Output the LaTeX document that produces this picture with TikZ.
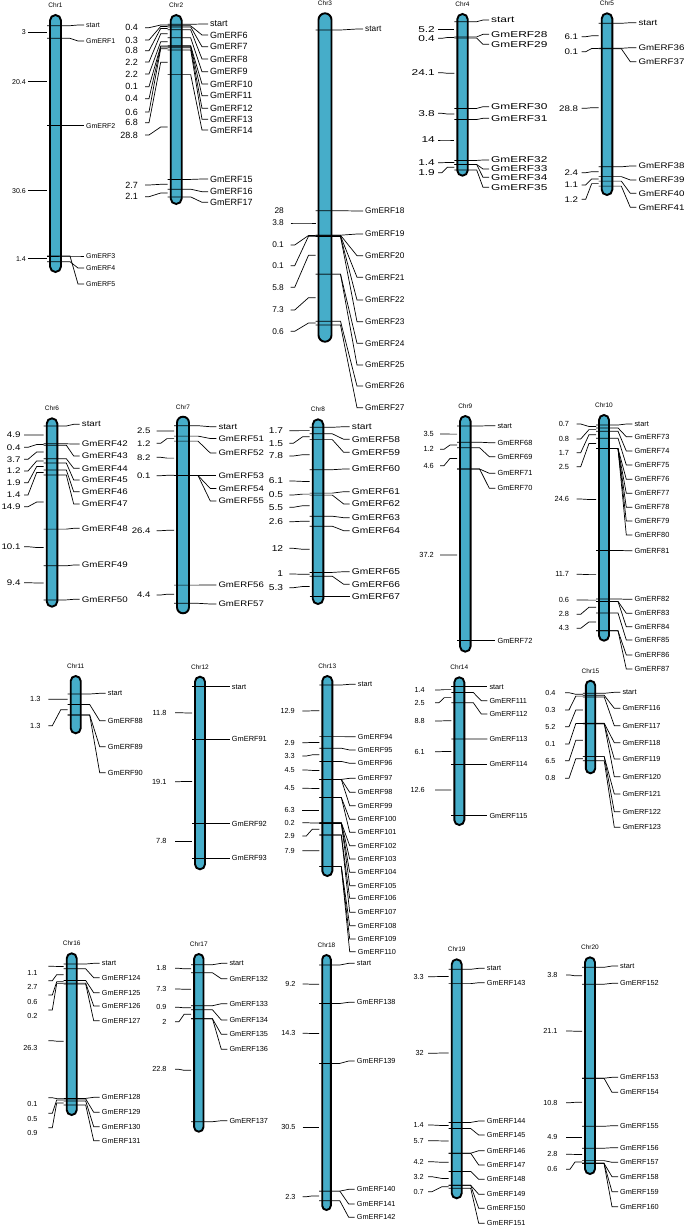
\documentclass[tikz,border=0pt]{standalone}
\usepackage{fontspec}
\setmainfont{Liberation Sans}
\newfontfamily\fontB[FakeStretch=1.2]{Liberation Sans}
\newfontfamily\fontC[FakeStretch=1.4]{Liberation Sans}
\newcommand\fA[1]{\normalfont\fontsize{#1}{#1}\selectfont}
\newcommand\fB[1]{\fontB\fontsize{#1}{#1}\selectfont}
\newcommand\fC[1]{\fontC\fontsize{#1}{#1}\selectfont}
\definecolor{barc}{RGB}{70,173,201}
\newcounter{dn}
\tikzset{
 bar/.style={draw=black, line width=1.9pt, fill=barc},
 ln/.style={draw=black, line width=0.7pt},
 lab/.style={font=\Kfn, inner sep=0pt},
 ttl/.style={font=\fA{6.5}, inner sep=0pt},
}
% #1 num, #2 cx, #3 top, #4 bottom, #5 label x, #6 dist text right, #7 font, #8 half width, #9 gap
\newcommand\chr[9]{%
 \def\Kcn{#1}\def\Kcx{#2}\def\Klx{#5}\def\Ktx{#6}\def\Kfn{#7}\def\Khw{#8}\def\Ktg{#9}%
 \node[ttl] (c#1) at ({#2},{#3-10}) {Chr#1};
 \draw[bar, rounded corners=#8pt] ({#2-#8},{#3}) rectangle ({#2+#8},{#4});
}
\newcommand\st[2]{%
 \node[lab,anchor=west] (s\Kcn) at (\Klx,#2) {start};
 \draw[ln] ({\Kcx-\Khw-3},#1) -- ({\Kcx+\Khw+9},#1) -- ({\Klx-8},#2) -- ([xshift=-2pt]s\Kcn.west);
}
\newcommand\gn[3]{%
 \node[lab,anchor=west] (g#3) at (\Klx,#2) {GmERF#3};
 \draw[ln] ({\Kcx-\Khw-3},#1) -- ({\Kcx+\Khw+9},#1) -- ({\Klx-8},#2) -- ([xshift=-2pt]g#3.west);
}
% yd, y0 (line start), yt (text), text
\newcommand\ds[4]{%
 \stepcounter{dn}%
 \node[lab,anchor=east] (d\thedn) at (\Ktx,#3) {#4};
 \draw[ln] ([xshift=\Ktg pt,yshift={(#3-(#2))*1pt}]d\thedn.east) -- ++(4,0) -- ({\Kcx-\Khw-10},#1) -- ({\Kcx-\Khw-3},#1);
}
\newcommand\da[3]{\ds{#1}{#2}{#2}{#3}}
\newcommand\dt[2]{\stepcounter{dn}\node[lab,anchor=east] (d\thedn) at (\Ktx,#1) {#2};}
\begin{document}
\begin{tikzpicture}[x=1pt,y=-1pt]
\fill[white] (0,0) rectangle (685,1227);
\useasboundingbox (0,0) rectangle (685,1227);

% ---------- Chr1
\chr{1}{55.5}{15}{272}{86}{26}{\fA{7}}{5.5}{2.3}
\st{25.7}{25}
\gn{38.3}{41}{1}
\gn{125.7}{125.7}{2}
\gn{256}{256}{3}
\gn{261.7}{268}{4}
\gn{256}{284}{5}
\da{32.2}{32.2}{3}
\da{81.7}{81.7}{20.4}
\da{190.7}{190.7}{30.6}
\da{258.7}{258.7}{1.4}

% ---------- Chr2
\chr{2}{176.2}{15}{204}{210}{138}{\fA{9}}{5.5}{7}
\st{24.3}{24}
\gn{25.8}{35}{6}
\gn{26.9}{46.7}{7}
\gn{29.8}{59}{8}
\gn{37.8}{71.7}{9}
\gn{45.8}{84}{10}
\gn{46.2}{95.7}{11}
\gn{47.7}{108.3}{12}
\gn{49.9}{119.3}{13}
\gn{74.6}{130}{14}
\gn{179.4}{179}{15}
\gn{189.2}{191.7}{16}
\gn{196.9}{202.3}{17}
\da{25}{27.7}{0.4}
\da{26.4}{40}{0.3}
\da{28.4}{50.7}{0.8}
\da{33.8}{62}{2.2}
\da{41.8}{74}{2.2}
\da{46}{86.7}{0.1}
\da{47}{98.7}{0.4}
\da{48.8}{112}{0.6}
\da{62.3}{122.7}{6.8}
\da{127}{135}{28.8}
\da{184.3}{185}{2.7}
\da{193}{196.7}{2.1}

% ---------- Chr3
\chr{3}{325}{13.3}{341.7}{365}{284}{\fA{8.3}}{6.5}{6.7}
\st{30}{29}
\gn{210.7}{211}{18}
\gn{235.2}{234}{19}
\gn{235.2}{255.7}{20}
\gn{235.9}{277.3}{21}
\gn{236.5}{300}{22}
\gn{236.5}{321.7}{23}
\gn{274.1}{343.3}{24}
\gn{274.1}{365}{25}
\gn{321.2}{386}{26}
\gn{325}{407.7}{27}
\dt{211}{28}
\da{223}{223}{3.8}
\da{235.5}{245}{0.1}
\da{236.2}{265.7}{0.1}
\da{255.3}{287.3}{5.8}
\da{297.7}{310}{7.3}
\da{323}{331.3}{0.6}

% ---------- Chr4
\chr{4}{462.5}{14}{175.7}{491}{435}{\fC{8.5}}{5.2}{3}
\st{21.7}{20}
\gn{36.9}{34.3}{28}
\gn{38.1}{44.3}{29}
\gn{108.4}{106.7}{30}
\gn{119.5}{118.3}{31}
\gn{160.4}{160}{32}
\gn{164.5}{169}{33}
\gn{164.5}{177.3}{34}
\gn{170}{187.3}{35}
\da{29.3}{29.3}{5.2}
\da{37.5}{38.3}{0.4}
\da{73.3}{72.7}{24.1}
\da{114}{113.3}{3.8}
\da{140}{140}{14}
\da{162.5}{162.7}{1.4}
\da{167.3}{172.7}{1.9}

% ---------- Chr5
\chr{5}{607}{13.3}{195}{638.3}{578.3}{\fB{8.1}}{5.3}{3.4}
\st{23.3}{22.7}
\gn{48.3}{47.7}{36}
\gn{48.7}{61.7}{37}
\gn{166.8}{166}{38}
\gn{176.6}{180}{39}
\gn{181.1}{193.3}{40}
\gn{186.1}{207.3}{41}
\da{35.8}{36.7}{6.1}
\da{48.5}{51.7}{0.1}
\da{107.7}{108.3}{28.8}
\da{171.7}{172.7}{2.4}
\da{178.9}{185}{1.1}
\da{183.6}{199.3}{1.2}

% ---------- Chr6
\chr{6}{52}{418.3}{606.7}{81.7}{20.7}{\fB{8.1}}{5.3}{3.3}
\st{426}{424.3}
\gn{443.8}{444}{42}
\gn{445.2}{456}{43}
\gn{458.7}{468.3}{44}
\gn{463}{480}{45}
\gn{469.9}{491.7}{46}
\gn{475}{504}{47}
\gn{529.1}{528.3}{48}
\gn{565.8}{565}{49}
\gn{599.9}{599.3}{50}
\da{434.9}{435}{4.9}
\da{444.5}{447.3}{0.4}
\da{452}{459.3}{3.7}
\da{460.9}{471}{1.2}
\da{466.5}{482.7}{1.9}
\da{472.5}{495}{1.4}
\da{502}{506.7}{14.9}
\da{547.5}{546.7}{10.1}
\da{583}{582.7}{9.4}

% ---------- Chr7
\chr{7}{183}{416.7}{613.3}{218.3}{150.7}{\fB{8}}{6}{6}
\st{425.7}{426.7}
\gn{436.1}{438.5}{51}
\gn{441.1}{453}{52}
\gn{475.5}{475.5}{53}
\gn{475.5}{488.5}{54}
\gn{475.5}{501}{55}
\gn{585.1}{585}{56}
\gn{603.3}{604}{57}
\da{430.9}{431}{2.5}
\da{438.6}{443.3}{1.2}
\da{458.1}{457.3}{8.2}
\da{475.3}{475.7}{0.1}
\da{530.3}{530.7}{26.4}
\da{594.2}{595}{4.4}

% ---------- Chr8
\chr{8}{318}{419.3}{604}{351.7}{283.3}{\fB{8.5}}{5.3}{6}
\st{427.3}{426.7}
\gn{433.8}{439.3}{58}
\gn{439.6}{452.3}{59}
\gn{469.7}{469}{60}
\gn{493.1}{491.7}{61}
\gn{495.1}{504}{62}
\gn{516.2}{517.7}{63}
\gn{526.2}{530.7}{64}
\gn{572.4}{571.7}{65}
\gn{576.2}{584.3}{66}
\gn{596.7}{596.7}{67}
\da{430.6}{430.7}{1.7}
\da{436.7}{443.3}{1.5}
\da{454.7}{456}{7.8}
\da{481.4}{481}{6.1}
\da{494.1}{495}{0.5}
\da{505.7}{507.3}{5.5}
\da{521.2}{521.7}{2.6}
\da{549.3}{548.3}{12}
\da{574.3}{574}{1}
\da{586.5}{587.7}{5.3}

% ---------- Chr9
\chr{9}{465.3}{416}{651.7}{497.3}{434}{\fA{7.4}}{5.3}{6}
\st{426}{425.7}
\gn{442.2}{442.7}{68}
\gn{447.7}{456.7}{69}
\gn{469}{473.3}{71}
\gn{469}{488.3}{70}
\gn{640.7}{640.7}{72}
\da{434.1}{434}{3.5}
\da{445}{449.3}{1.2}
\da{458.4}{465.7}{4.6}
\da{554.9}{555}{37.2}

% ---------- Chr10
\chr{10}{604}{415}{640.7}{634.3}{569.3}{\fA{7.4}}{5}{7.4}
\st{425}{424}
\gn{427.9}{436.7}{73}
\gn{431.2}{451}{74}
\gn{438.2}{465}{75}
\gn{448.6}{479.3}{76}
\gn{448.6}{493.3}{77}
\gn{448.6}{507.3}{78}
\gn{448.6}{521}{79}
\gn{448.6}{535}{80}
\gn{550.4}{550.7}{81}
\gn{598.9}{599.3}{82}
\gn{601.4}{613.3}{83}
\gn{601.4}{626.7}{84}
\gn{613}{640}{85}
\gn{630.8}{655}{86}
\gn{630.8}{669}{87}
\da{426.5}{424}{0.7}
\da{429.6}{439}{0.8}
\da{434.7}{452.7}{1.7}
\da{443.4}{466.7}{2.5}
\da{499.5}{499}{24.6}
\da{574.6}{574.3}{11.7}
\da{600.1}{600}{0.6}
\da{607.2}{614.3}{2.8}
\da{621.9}{628.3}{4.3}

% ---------- Chr11
\chr{11}{75.7}{676}{733.3}{107.7}{40.7}{\fA{7.4}}{5}{7.6}
\st{694}{693.3}
\gn{704.5}{720.7}{88}
\gn{715}{746.7}{89}
\gn{715}{772.7}{90}
\da{699.2}{699.3}{1.3}
\da{709.8}{725.7}{1.3}

% ---------- Chr12
\chr{12}{200}{676.7}{869.3}{231.7}{166.7}{\fA{7.4}}{5}{8.3}
\st{686.7}{686.7}
\gn{739}{739}{91}
\gn{823.7}{823.7}{92}
\gn{858.3}{858.3}{93}
\da{712.9}{712.7}{11.8}
\da{781.4}{781.7}{19.1}
\da{841}{841}{7.8}

% ---------- Chr13
\chr{13}{327.3}{676}{876}{357.7}{295}{\fA{7.3}}{5}{7.3}
\st{685}{684.3}
\gn{736.6}{736.7}{94}
\gn{748.2}{750}{95}
\gn{761.4}{763.3}{96}
\gn{779.4}{778.3}{97}
\gn{779.4}{792.3}{98}
\gn{779.4}{805.7}{99}
\gn{797.4}{819.3}{100}
\gn{797.4}{832.3}{101}
\gn{822.6}{845.7}{102}
\gn{822.6}{859}{103}
\gn{823.4}{872.3}{104}
\gn{823.4}{885.7}{105}
\gn{835}{898.3}{106}
\gn{835}{912.3}{107}
\gn{866.6}{925.7}{108}
\gn{866.6}{939}{109}
\gn{866.6}{951.7}{110}
\da{710.8}{711}{12.9}
\da{742.4}{742.7}{2.9}
\da{754.8}{756}{3.3}
\da{770.4}{770}{4.5}
\da{788.4}{788.3}{4.5}
\da{810}{810}{6.3}
\da{823}{822.7}{0.2}
\da{829.2}{836}{2.9}
\da{850.8}{850.7}{7.9}

% ---------- Chr14
\chr{14}{459.3}{677.3}{825}{489.3}{425}{\fA{7.3}}{5}{10}
\st{686.7}{686.7}
\gn{692.5}{700.7}{111}
\gn{702.7}{714}{112}
\gn{738.9}{739}{113}
\gn{764}{764}{114}
\gn{815.7}{815.7}{115}
\da{689.6}{690}{1.4}
\da{697.6}{702.7}{2.5}
\da{720.8}{721}{8.8}
\da{751.5}{751.7}{6.1}
\da{789.9}{790}{12.6}

% ---------- Chr15
\chr{15}{590.5}{680.7}{773.3}{622.3}{555.7}{\fA{7.3}}{4.7}{9.3}
\st{693.3}{692.3}
\gn{695.3}{708.3}{116}
\gn{696.9}{725.7}{117}
\gn{723.2}{742.7}{118}
\gn{723.7}{759}{119}
\gn{723.7}{776.7}{120}
\gn{756.6}{794}{121}
\gn{756.6}{811.7}{122}
\gn{760.7}{827.3}{123}
\da{694.3}{692.7}{0.4}
\da{696.1}{710}{0.3}
\da{710}{726.7}{5.2}
\da{723.5}{744}{0.1}
\da{740.2}{760.7}{6.5}
\da{758.7}{778.3}{0.8}

% ---------- Chr16
\chr{16}{71.7}{953.3}{1115}{101.7}{37.7}{\fA{7.3}}{5}{10.6}
\st{964}{963.3}
\gn{968.8}{977.7}{124}
\gn{980.5}{992.7}{125}
\gn{983.1}{1006}{126}
\gn{984}{1020.7}{127}
\gn{1098.4}{1097.3}{128}
\gn{1098.9}{1112.3}{129}
\gn{1101}{1126.7}{130}
\gn{1105}{1140.7}{131}
\ds{966.4}{966.3}{973.3}{1.1}
\ds{974.7}{980.7}{987.3}{2.7}
\ds{981.8}{995}{1001.7}{0.6}
\ds{983.6}{1010}{1016}{0.2}
\ds{1041.2}{1040.7}{1047.7}{26.3}
\ds{1098.6}{1097.7}{1104.3}{0.1}
\ds{1100}{1113.3}{1119.3}{0.5}
\ds{1103}{1127.7}{1133.3}{0.9}

% ---------- Chr17
\chr{17}{198.8}{954}{1131.7}{229.3}{166.7}{\fA{7.3}}{4.7}{8.3}
\st{964.7}{963.3}
\gn{972.8}{978.7}{132}
\gn{1005.7}{1003.7}{133}
\gn{1009.8}{1020}{134}
\gn{1018.8}{1034.3}{135}
\gn{1018.8}{1049.3}{136}
\gn{1121.7}{1120.7}{137}
\da{968.8}{968.3}{1.8}
\da{989.3}{989}{7.3}
\da{1007.8}{1007.3}{0.9}
\da{1014.3}{1021.7}{2}
\da{1070.3}{1069.3}{22.8}

% ---------- Chr18
\chr{18}{326.5}{955}{1210}{356.7}{295.7}{\fA{7.3}}{4.3}{7}
\st{965}{963.3}
\gn{1003.5}{1002.3}{138}
\gn{1063.4}{1061}{139}
\gn{1191.1}{1189.3}{140}
\gn{1191.1}{1204}{141}
\gn{1200.7}{1217.3}{142}
\da{984.3}{984}{9.2}
\da{1033.5}{1033.3}{14.3}
\da{1127.3}{1127.3}{30.5}
\da{1195.9}{1196.7}{2.3}

% ---------- Chr19
\chr{19}{456.7}{959.3}{1198.3}{486.7}{424}{\fA{7.3}}{5}{4}
\st{969.3}{968.3}
\gn{983.6}{982.7}{143}
\gn{1122.4}{1121}{144}
\gn{1128.5}{1135}{145}
\gn{1153.2}{1150.7}{146}
\gn{1153.2}{1165}{147}
\gn{1171.4}{1179.3}{148}
\gn{1185.3}{1194.3}{149}
\gn{1185.3}{1208.3}{150}
\gn{1188.3}{1223.3}{151}
\da{976.5}{976.7}{3.3}
\da{1053}{1053.3}{32}
\da{1125.5}{1125}{1.4}
\da{1140.9}{1140.7}{5.7}
\da{1162.3}{1161.7}{4.2}
\da{1178.4}{1176.7}{3.2}
\da{1186.8}{1191.7}{0.7}

% ---------- Chr20
\chr{20}{590}{957.3}{1174}{620}{557.7}{\fA{7.3}}{5}{8.3}
\st{967.3}{966}
\gn{984.2}{983.3}{152}
\gn{1078.2}{1077.3}{153}
\gn{1078.2}{1092.3}{154}
\gn{1126.3}{1125.7}{155}
\gn{1148.2}{1147.7}{156}
\gn{1160.6}{1162.3}{157}
\gn{1163.3}{1176.7}{158}
\gn{1163.3}{1191.7}{159}
\gn{1163.3}{1206.7}{160}
\da{975.8}{975}{3.8}
\da{1031.2}{1031}{21.1}
\da{1102.3}{1102.7}{10.8}
\da{1137.3}{1137.3}{4.9}
\da{1154.4}{1154.3}{2.8}
\da{1162}{1169.3}{0.6}
\end{tikzpicture}
\end{document}
